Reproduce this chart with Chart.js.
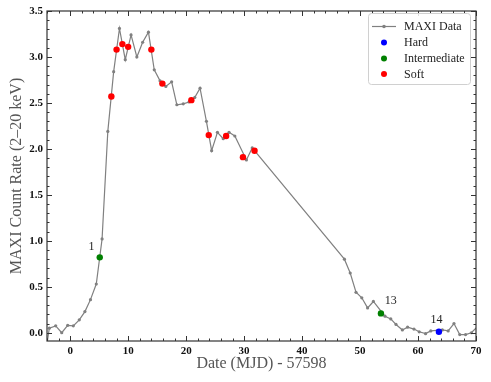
<!DOCTYPE html>
<html>
<head>
<meta charset="utf-8">
<script src="https://cdn.jsdelivr.net/npm/chart.js@4.4.1/dist/chart.umd.min.js"></script>
<style>
html,body{margin:0;padding:0;background:#fff;}
#wrap{width:491px;height:382px;}
</style>
</head>
<body>
<div id="wrap"><canvas id="c" width="491" height="382"></canvas></div>
<script>
// ---- data ----
const maxiX = [-4.5,-3.6,-2.5,-1.46,-0.43,0.54,1.57,2.54,3.5,4.5,5.5,6.49,7.5,8.5,9.5,10.5,11.5,12.5,13.5,14.5,15.5,16.5,17.5,18.4,19.5,20.5,21.5,22.4,23.5,24.4,25.4,26.4,27.4,28.4,30.4,31.4,47.3,48.3,49.3,50.3,51.3,52.3,54.3,55.3,56.2,57.3,58.2,59.3,60.2,61.3,62.2,64.2,65.2,66.2,67.2,68.2,69.2,70.3];
const maxiY = [-0.33,0.05,0.075,0.0,0.08,0.075,0.14,0.23,0.36,0.53,1.02,2.19,2.84,3.31,2.97,3.24,3.0,3.16,3.27,2.86,2.74,2.68,2.73,2.48,2.49,2.51,2.56,2.66,2.30,1.98,2.18,2.11,2.18,2.14,1.88,2.01,0.80,0.65,0.44,0.38,0.27,0.34,0.18,0.15,0.09,0.03,0.06,0.04,0.01,-0.01,0.02,0.03,0.02,0.10,-0.02,-0.02,0.0,0.07];
const hardX = [63.6];
const hardY = [0.01];
const interX = [5.1,53.6];
const interY = [0.82,0.21];
const softX = [7.1,8.0,9.0,10.0,14.0,15.9,20.9,23.9,26.9,29.8,31.8];
const softY = [2.57,3.08,3.14,3.11,3.08,2.71,2.53,2.15,2.14,1.91,1.98];
const annLabels = ['1','13','14'];
const annX = [3.69,55.3,63.2];
const annY = [0.936,0.344,0.143];
const xTickValues = [0,10,20,30,40,50,60,70];
const yTickValues = [0,0.5,1.0,1.5,2.0,2.5,3.0,3.5];
const seriesNames = ['MAXI Data','Hard','Intermediate','Soft'];

const pts = (xs, ys) => xs.map((v,i)=>({x:v, y:ys[i]}));
const SERIF = '"Liberation Serif", "DejaVu Serif", serif';

const frameTicks = {
  id:'frameTicks',
  afterDatasetsDraw(chart){
    const {ctx, chartArea:a, scales:{x,y}} = chart;
    ctx.save();
    ctx.strokeStyle='#333'; ctx.lineWidth=1;
    ctx.beginPath();
    for (let k=-2; k<=35; k++){
      const v=k*2; if (v < x.min || v > x.max) continue;
      const px=Math.round(x.getPixelForValue(v))+0.5;
      const len = (v%10===0)?5:2.5;
      ctx.moveTo(px,a.bottom); ctx.lineTo(px,a.bottom-len);
      ctx.moveTo(px,a.top); ctx.lineTo(px,a.top+len);
    }
    for (let k=0; k<=35; k++){
      const v=k/10; if (v < y.min || v > y.max) continue;
      const py=Math.round(y.getPixelForValue(v))+0.5;
      const len = (k%5===0)?5:2.5;
      ctx.moveTo(a.left,py); ctx.lineTo(a.left+len,py);
      ctx.moveTo(a.right,py); ctx.lineTo(a.right-len,py);
    }
    ctx.stroke();
    ctx.lineWidth=1.2; ctx.strokeStyle='#333';
    ctx.strokeRect(a.left, a.top, a.right-a.left, a.bottom-a.top);
    // annotations
    ctx.fillStyle='#222'; ctx.font='12px '+SERIF;
    ctx.textAlign='center'; ctx.textBaseline='middle';
    annLabels.forEach((t,i)=>{
      ctx.fillText(t, x.getPixelForValue(annX[i]), y.getPixelForValue(annY[i]));
    });
    ctx.restore();
  },
  afterDraw(chart){
    const {ctx} = chart;
    const ds = chart.data.datasets;
    ctx.save();
    const bx=368, by=13, bw=102, bh=71, r=3;
    ctx.fillStyle='rgba(255,255,255,0.85)';
    ctx.strokeStyle='#d0d0d0'; ctx.lineWidth=1;
    ctx.beginPath();
    ctx.moveTo(bx+r+0.5,by+0.5); ctx.lineTo(bx+bw-r+0.5,by+0.5);
    ctx.arcTo(bx+bw+0.5,by+0.5,bx+bw+0.5,by+r+0.5,r);
    ctx.lineTo(bx+bw+0.5,by+bh-r+0.5);
    ctx.arcTo(bx+bw+0.5,by+bh+0.5,bx+bw-r+0.5,by+bh+0.5,r);
    ctx.lineTo(bx+r+0.5,by+bh+0.5);
    ctx.arcTo(bx+0.5,by+bh+0.5,bx+0.5,by+bh-r+0.5,r);
    ctx.lineTo(bx+0.5,by+r+0.5);
    ctx.arcTo(bx+0.5,by+0.5,bx+r+0.5,by+0.5,r);
    ctx.closePath(); ctx.fill(); ctx.stroke();
    ctx.font='12px '+SERIF; ctx.textAlign='left'; ctx.textBaseline='middle';
    const rows=[26.5,42.5,58.5,74];
    ds.forEach((d,i)=>{
      const cy=rows[i];
      if (i===0){
        ctx.strokeStyle=d.borderColor; ctx.lineWidth=1.2;
        ctx.beginPath(); ctx.moveTo(372,cy); ctx.lineTo(396,cy); ctx.stroke();
        ctx.fillStyle=d.backgroundColor;
        ctx.beginPath(); ctx.arc(384,cy,1.8,0,Math.PI*2); ctx.fill();
      } else {
        ctx.fillStyle=d.backgroundColor;
        ctx.beginPath(); ctx.arc(384,cy,3,0,Math.PI*2); ctx.fill();
      }
      ctx.fillStyle='#222';
      ctx.fillText(d.label, 404, cy+0.5);
    });
    ctx.restore();
  }
};

new Chart(document.getElementById('c'), {
  type:'scatter',
  data:{
    datasets:[
      {label:seriesNames[0], data:pts(maxiX,maxiY), showLine:true, borderColor:'#808080', backgroundColor:'#808080', borderWidth:1.2, pointRadius:1.6, pointBorderWidth:0, order:4},
      {label:seriesNames[1], data:pts(hardX,hardY), borderColor:'#0000ff', backgroundColor:'#0000ff', pointRadius:3.2, pointBorderWidth:0, order:1},
      {label:seriesNames[2], data:pts(interX,interY), borderColor:'#008000', backgroundColor:'#008000', pointRadius:3.2, pointBorderWidth:0, order:2},
      {label:seriesNames[3], data:pts(softX,softY), borderColor:'#ff0000', backgroundColor:'#ff0000', pointRadius:3.2, pointBorderWidth:0, order:3}
    ]
  },
  options:{
    responsive:false, animation:false, devicePixelRatio:1,
    layout:{padding:{left:0,right:15,top:11,bottom:0}},
    plugins:{legend:{display:false}, tooltip:{enabled:false}},
    scales:{
      x:{type:'linear', min:-4, max:70,
        afterBuildTicks(s){ s.ticks = xTickValues.map(v=>({value:v})); },
        afterFit(s){ s.height = 41; },
        grid:{display:false, drawTicks:false}, border:{display:false},
        ticks:{padding:4, color:'#111', font:{family:SERIF, size:11, weight:'bold'}, maxRotation:0, autoSkip:false},
        title:{display:true, text:'Date (MJD) - 57598', color:'#555', font:{family:SERIF, size:16}, padding:{top:0,bottom:9}}
      },
      y:{type:'linear', min:-0.09, max:3.5,
        afterBuildTicks(s){ s.ticks = yTickValues.map(v=>({value:v})); },
        afterFit(s){ s.width = 47; },
        grid:{display:false, drawTicks:false}, border:{display:false},
        ticks:{padding:4, color:'#111', font:{family:SERIF, size:11, weight:'bold'}, autoSkip:false, callback:v=>Number(v).toFixed(1)},
        title:{display:true, text:'MAXI Count Rate (2–20 keV)', color:'#555', font:{family:SERIF, size:16}, padding:{top:7,bottom:0}}
      }
    }
  },
  plugins:[frameTicks]
});
</script>
</body>
</html>
